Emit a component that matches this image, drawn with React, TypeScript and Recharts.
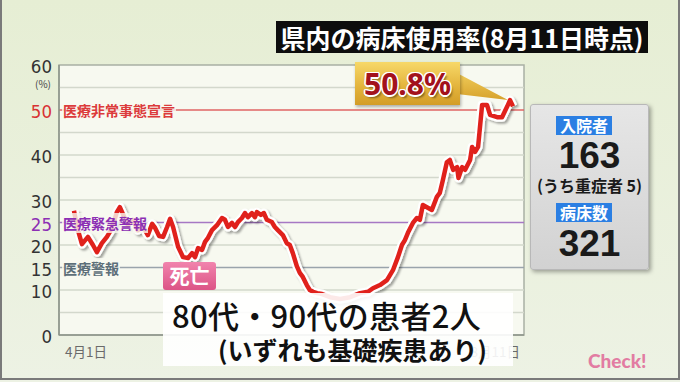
import React from "react";
import { LineChart, Line, XAxis, YAxis, ReferenceLine, ReferenceArea } from "recharts";

// Day index from 4月1日 (0) to 8月11日 (132)
const days = [0, 1, 2.4, 4.2, 5.7, 6.9, 8.4, 9.9, 10.8, 12, 12.9, 13.8, 15, 16.2, 17.7, 19.2, 20.7, 22.2, 23.5, 24.4, 25.6, 26.8, 28, 28.9, 29.8, 31.3, 32.8, 34.3, 35.5, 36.4, 37.3, 38.5, 39.4, 40.3, 41.5, 43, 44.5, 45.4, 46.3, 47.5, 48.4, 49.3, 50.5, 51.4, 52.3, 53.5, 54.4, 55, 56.2, 57.1, 58, 59.5, 60.4, 61.3, 62.8, 64, 64.9, 65.8, 67, 67.9, 68.8, 70, 70.9, 71.9, 73.1, 74.6, 77, 80, 83, 86, 88.4, 89.9, 92, 94.1, 95.9, 97.4, 98.6, 99.5, 100.4, 101.9, 103.1, 104, 104.9, 106.1, 107.6, 109.1, 110, 110.9, 112.1, 113, 114, 115.2, 115.6, 116.7, 117.6, 119.1, 119.7, 120.6, 121.5, 122.7, 124.2, 125.1, 127.2, 128.7, 130.2, 131.1, 132];
const rates = [27.6, 23.8, 20.2, 21.8, 20, 18.4, 20.4, 21.8, 22.9, 25.1, 27.3, 28.4, 26.4, 24.4, 25.6, 23.3, 24.2, 22.2, 24.7, 23.8, 22, 21.8, 24, 25.8, 24, 19.6, 17.3, 17.1, 18.2, 17.3, 19.3, 18.9, 20.7, 21.6, 23.3, 24.4, 26, 25.6, 24, 24.9, 24, 25.1, 26, 27.1, 26.2, 27.1, 26.2, 27.3, 26.7, 27.1, 25.6, 25.1, 24, 23.3, 22.2, 20.4, 20, 18.2, 15.3, 13.8, 12.9, 11.1, 10, 9.6, 9.3, 9.1, 8.4, 8, 8.4, 9.3, 9.6, 10.4, 11.1, 12.2, 14.4, 17.3, 20, 21.1, 22.7, 24.9, 26, 25.6, 28.9, 28.4, 27.8, 30.7, 31.6, 34.4, 38.4, 38.9, 36.7, 37.3, 34.9, 37.3, 36.7, 38.9, 41.8, 40.7, 41.8, 51.1, 51.1, 48.9, 48.4, 48.4, 50.7, 52.2, 50.8];

const xTickDays = [0, 132];
const xTickLabels = ["4月1日", "8月11日"];
const yTicks = [0, 10, 15, 20, 25, 30, 40, 50, 60];
const gridValues = [5, 10, 20, 30, 35, 40, 45, 55];

const thresholdValues = [50, 25, 15];
const thresholdNames = ["医療非常事態宣言", "医療緊急警報", "医療警報"];
const thresholdColors = ["#dc3b3b", "#8c2fb4", "#5d6f79"];
const thresholdLineColors = ["#e06464", "#a678c4", "#9aa4ac"];

const titleText = "県内の病床使用率(8月11日時点)";
const inpatients = 163;
const severe = 5;
const beds = 321;
const deathNote = "死亡";
const boxLine1 = "80代・90代の患者2人";
const boxLine2 = "(いずれも基礎疾患あり)";

const data = days.map((d, i) => ({ day: d, rate: rates[i] }));

const JP = "'Noto Sans CJK JP', 'Noto Sans', sans-serif";
const NARROW = "'Liberation Sans Narrow', 'DejaVu Sans Condensed', sans-serif";

const YTick = (props: any) => {
  const { y, payload } = props;
  const v = payload.value;
  const color = v === 50 ? "#d83232" : v === 25 ? "#8c2fb4" : "#333";
  return (
    <g>
      <text x={52} y={y + 8} textAnchor="end" fontSize={18.5} fontFamily={NARROW} fill={color}>
        {v}
      </text>
      {v === 60 && (
        <text x={51} y={y + 23} textAnchor="end" fontSize={10} fontFamily={JP} fill="#444">
          (%)
        </text>
      )}
    </g>
  );
};

const XTick = (props: any) => {
  const { x, payload } = props;
  const idx = xTickDays.indexOf(payload.value);
  const first = idx === 0;
  return (
    <text
      x={first ? x - 9 : x + 7}
      y={357}
      textAnchor={first ? "start" : "end"}
      fontSize={13.5}
      fontFamily={JP}
      fill="#6a6a6a"
    >
      {xTickLabels[idx]}
    </text>
  );
};

export default function App() {
  const last = rates[rates.length - 1];
  return (
    <div
      style={{
        position: "absolute",
        left: 0,
        top: 0,
        width: 680,
        height: 382,
        overflow: "hidden",
        background: "linear-gradient(180deg, #e6eed4 0%, #edf2e4 100%)",
        fontFamily: JP,
      }}
    >
      <div
        style={{
          position: "absolute",
          left: 0,
          top: 0,
          width: 676,
          height: 378,
          borderLeft: "2px solid #7a7a7a",
          borderRight: "2px solid #7a7a7a",
          borderBottom: "2px solid #7a7a7a",
        }}
      />
      <div style={{ position: "absolute", left: 0, top: 0 }}>
        <LineChart width={680} height={382} data={data} margin={{ top: 65, right: 156, bottom: 17, left: 19 }}>
          <defs>
            <filter id="lineShadow" x="-10%" y="-10%" width="120%" height="120%">
              <feDropShadow dx="2" dy="2" stdDeviation="1.2" floodColor="#000" floodOpacity="0.35" />
            </filter>
          </defs>
          <XAxis
            type="number"
            dataKey="day"
            domain={[-4.5, 135.3]}
            ticks={xTickDays}
            height={30}
            tickLine={false}
            axisLine={{ stroke: "#8d948a", strokeWidth: 1.5 }}
            tick={<XTick />}
            allowDataOverflow
            interval={0}
          />
          <YAxis
            type="number"
            domain={[0, 60]}
            ticks={yTicks}
            width={40}
            tickLine={false}
            axisLine={{ stroke: "#8d948a", strokeWidth: 1.5 }}
            tick={<YTick />}
            interval={0}
            allowDataOverflow
          />
          <ReferenceArea x1={-4.5} x2={135.3} y1={0} y2={60} fill="#f7f9f0" fillOpacity={1} stroke="#a9b0a4" strokeWidth={1.5} ifOverflow="visible" />
          {gridValues.map((g) => (
            <ReferenceLine key={"g" + g} y={g} stroke="#d3d8cc" strokeWidth={1.5} />
          ))}
          {thresholdValues.map((t, i) => (
            <ReferenceLine key={"t" + t} y={t} stroke={thresholdLineColors[i]} strokeWidth={1.5} />
          ))}
          <Line
            type="linear"
            dataKey="rate"
            stroke="#ffffff"
            strokeWidth={9}
            dot={false}
            isAnimationActive={false}
            filter="url(#lineShadow)"
            strokeLinejoin="round"
          />
          <Line
            type="linear"
            dataKey="rate"
            stroke="#e0211c"
            strokeWidth={4.5}
            dot={false}
            isAnimationActive={false}
            strokeLinejoin="round"
          />
        </LineChart>
      </div>

      {/* threshold labels */}
      {thresholdValues.map((t, i) => (
        <div
          key={"lbl" + t}
          style={{
            position: "absolute",
            left: 62,
            top: 335 - t * 4.5 - 10,
            height: 20,
            lineHeight: "20px",
            padding: "0 1px",
            background: "rgba(247,249,240,0.8)",
            color: thresholdColors[i],
            fontSize: 14,
            fontWeight: 700,
            whiteSpace: "nowrap",
          }}
        >
          {thresholdNames[i]}
        </div>
      ))}

      {/* title */}
      <div
        style={{
          position: "absolute",
          left: 276,
          top: 21,
          width: 372,
          height: 32,
          background: "#0d0d0d",
          color: "#fff",
          fontSize: 25,
          fontWeight: 700,
          lineHeight: "32px",
          textAlign: "center",
          whiteSpace: "nowrap",
        }}
      >
        {titleText}
      </div>

      {/* callout */}
      <svg style={{ position: "absolute", left: 0, top: 0 }} width={680} height={382}>
        <defs>
          <linearGradient id="gold" x1="0" y1="0" x2="0" y2="1">
            <stop offset="0%" stopColor="#f7d868" />
            <stop offset="100%" stopColor="#d7a22c" />
          </linearGradient>
        </defs>
        <polygon points="440,64 508,100 440,92" fill="url(#gold)" />
      </svg>
      <div
        style={{
          position: "absolute",
          left: 355,
          top: 62,
          width: 105,
          height: 43,
          background: "linear-gradient(180deg, #f7d868 0%, #e2b23a 60%, #d39d28 100%)",
          boxShadow: "1px 2px 3px rgba(0,0,0,0.3)",
          color: "#a3121c",
          fontSize: 30,
          fontWeight: 700,
          lineHeight: "43px",
          textAlign: "center",
          fontFamily: "'Noto Sans', Roboto, sans-serif",
          textShadow:
            "1.5px 0 #fff, -1.5px 0 #fff, 0 1.5px #fff, 0 -1.5px #fff, 1px 1px #fff, -1px -1px #fff, 1px -1px #fff, -1px 1px #fff, 2px 3px 2px rgba(0,0,0,0.4)",
        }}
      >
        {last.toFixed(1)}%
      </div>

      {/* right panel */}
      <div
        style={{
          position: "absolute",
          left: 530,
          top: 104,
          width: 117,
          height: 164,
          background: "linear-gradient(180deg, #e6e6e6 0%, #d2d2d2 100%)",
          border: "1px solid #b8b8b8",
          borderRadius: 3,
          boxShadow: "2px 2px 4px rgba(0,0,0,0.35)",
        }}
      >
        <div style={{ position: "absolute", left: 25, top: 11, width: 56, height: 19, background: "#2b7fe3", color: "#fff", fontSize: 16, fontWeight: 700, lineHeight: "19px", textAlign: "center" }}>
          入院者
        </div>
        <div style={{ position: "absolute", left: 0, top: 35, width: 117, textAlign: "center", fontSize: 37, fontWeight: 700, lineHeight: "32px", color: "#1a1a1a", fontFamily: "'Liberation Sans', Arial, sans-serif" }}>
          {inpatients}
        </div>
        <div style={{ position: "absolute", left: 0, top: 71, width: 117, textAlign: "center", fontSize: 16, fontWeight: 700, lineHeight: "18px", color: "#1a1a1a", whiteSpace: "nowrap" }}>
          (うち重症者 {severe})
        </div>
        <div style={{ position: "absolute", left: 25, top: 98, width: 56, height: 19, background: "#2b7fe3", color: "#fff", fontSize: 16, fontWeight: 700, lineHeight: "19px", textAlign: "center" }}>
          病床数
        </div>
        <div style={{ position: "absolute", left: 0, top: 123, width: 117, textAlign: "center", fontSize: 37, fontWeight: 700, lineHeight: "32px", color: "#1a1a1a", fontFamily: "'Liberation Sans', Arial, sans-serif" }}>
          {beds}
        </div>
      </div>

      {/* death tag */}
      <div
        style={{
          position: "absolute",
          left: 163,
          top: 262,
          width: 53,
          height: 28,
          borderRadius: 3,
          background: "linear-gradient(180deg, #f184ad 0%, #dc5486 100%)",
          color: "#fff",
          fontSize: 20,
          fontWeight: 700,
          lineHeight: "28px",
          textAlign: "center",
        }}
      >
        {deathNote}
      </div>

      {/* white note box */}
      <div
        style={{
          position: "absolute",
          left: 163,
          top: 293,
          width: 350,
          height: 73,
          background: "rgba(255,255,255,0.9)",
        }}
      />
      <div style={{ position: "absolute", left: 172, top: 298, fontSize: 31, fontWeight: 500, lineHeight: "33px", color: "#111", whiteSpace: "nowrap", letterSpacing: 0.3 }}>
        {boxLine1}
      </div>
      <div style={{ position: "absolute", left: 157, top: 336, width: 330, textAlign: "right", fontSize: 25, fontWeight: 700, lineHeight: "27px", color: "#111", whiteSpace: "nowrap" }}>
        {boxLine2}
      </div>

      {/* Check! */}
      <div style={{ position: "absolute", left: 588, top: 349, fontSize: 19, fontWeight: 900, color: "#e27ca2", fontFamily: "Lato, 'Noto Sans', sans-serif", lineHeight: "24px" }}>
        Check!
      </div>
    </div>
  );
}
